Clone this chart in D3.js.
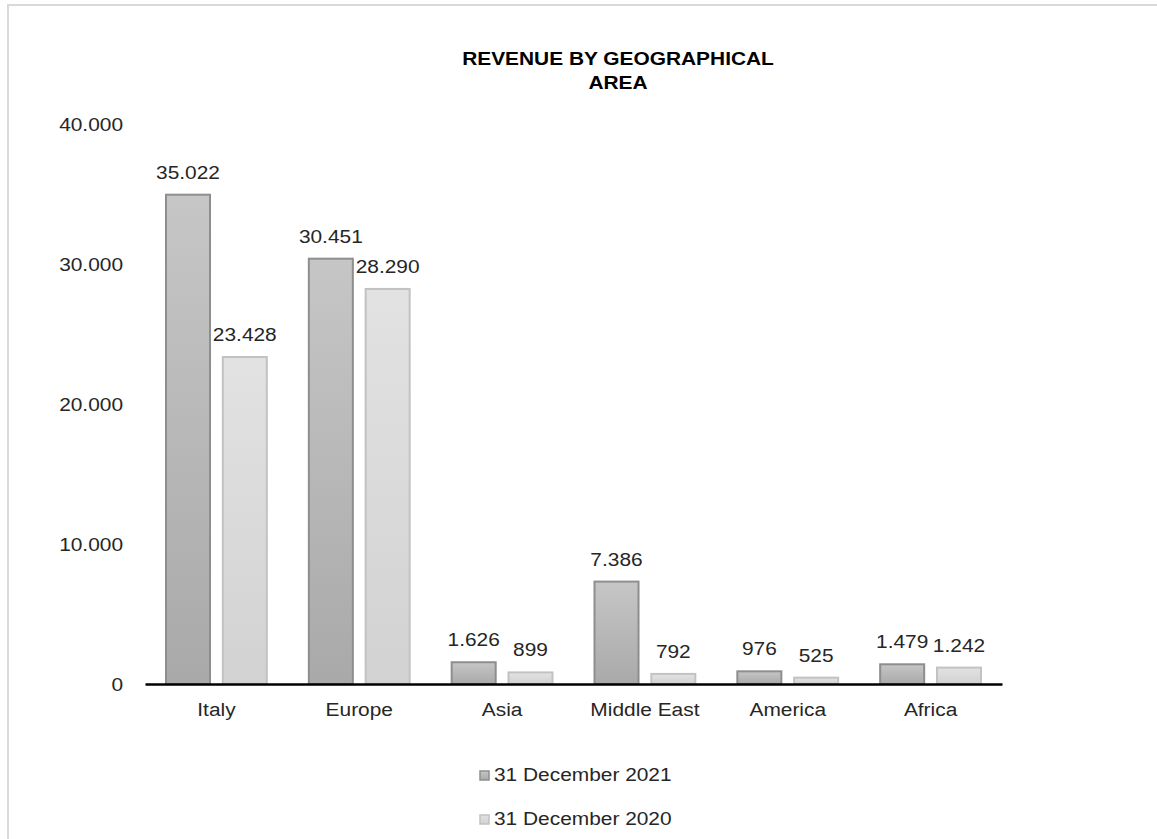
<!DOCTYPE html>
<html>
<head>
<meta charset="utf-8">
<script src="https://cdn.jsdelivr.net/npm/d3@7"></script>
<style>
  html, body { margin: 0; padding: 0; background: #fff; }
  svg { display: block; font-family: "Liberation Sans", Arial, sans-serif; }
</style>
</head>
<body>
<svg id="chart" width="1157" height="839"></svg>
<script>
// Revenue by geographical area, thousands of euro
const categories = ["Italy", "Europe", "Asia", "Middle East", "America", "Africa"];
const seriesNames = ["31 December 2021", "31 December 2020"];
const values2021 = [35022, 30451, 1626, 7386, 976, 1479];
const values2020 = [23428, 28290, 899, 792, 525, 1242];
const yTicks = [0, 10000, 20000, 30000, 40000];

const seriesValues = [values2021, values2020];
const fmt = v => d3.format(",")(v).replace(/,/g, ".");

const svg = d3.select("#chart");
const W = 1157, H = 839;
const plot = { left: 145, right: 1002, top: 124, bottom: 684 };
const FS = 18;        // base font size
const WIDEN = 1.16;   // horizontal widening of all labels

// outer frame
svg.append("rect")
  .attr("x", 8).attr("y", 5)
  .attr("width", W + 10).attr("height", H + 10)
  .attr("fill", "#fff").attr("stroke", "#d9d9d9").attr("stroke-width", 2);

// gradients for the two series
const defs = svg.append("defs");
const gradStops = [
  [["0%", "#c6c6c6"], ["100%", "#a9a9a9"]],
  [["0%", "#e2e2e2"], ["100%", "#d2d2d2"]]
];
gradStops.forEach((stops, i) => {
  const g = defs.append("linearGradient").attr("id", "grad" + i)
    .attr("x1", 0).attr("y1", 0).attr("x2", 0).attr("y2", 1);
  stops.forEach(s => g.append("stop").attr("offset", s[0]).attr("stop-color", s[1]));
});
const strokes = ["#8e8e8e", "#c2c2c2"];

const x0 = d3.scaleBand().domain(categories).range([plot.left, plot.right]).paddingInner(0).paddingOuter(0);
const x1 = d3.scaleBand().domain(d3.range(2)).range([20, x0.bandwidth() - 20]).paddingInner(0.19);
const y = d3.scaleLinear().domain([0, 40000]).range([plot.bottom, plot.top]);

// title
svg.append("text").attr("x", 618).attr("y", 65).attr("text-anchor", "middle")
  .attr("font-weight", "bold").attr("font-size", FS).attr("fill", "#000")
  .text("REVENUE BY GEOGRAPHICAL");
svg.append("text").attr("x", 618).attr("y", 89).attr("text-anchor", "middle")
  .attr("font-weight", "bold").attr("font-size", FS).attr("fill", "#000")
  .text("AREA");

// y axis labels (no axis line, no gridlines)
const yAxis = d3.axisLeft(y).tickValues(yTicks).tickFormat(fmt).tickSize(0).tickPadding(0);
const yg = svg.append("g").attr("transform", `translate(123,0)`).call(yAxis);
yg.select(".domain").remove();
yg.selectAll("text").attr("font-size", FS).attr("fill", "#262626").attr("dy", "0.36em")
  .attr("font-family", "Liberation Sans, Arial, sans-serif");

// bars
const groups = svg.append("g").selectAll("g").data(categories).join("g")
  .attr("transform", d => `translate(${x0(d)},0)`);

groups.each(function (cat, ci) {
  const g = d3.select(this);
  seriesValues.forEach((vals, si) => {
    const v = vals[ci];
    g.append("rect")
      .attr("x", x1(si) + 1).attr("width", x1.bandwidth() - 2)
      .attr("y", y(v) + 1).attr("height", Math.max(0, y(0) - y(v) - 1))
      .attr("fill", `url(#grad${si})`)
      .attr("stroke", strokes[si]).attr("stroke-width", 2);
    g.append("text")
      .attr("x", x1(si) + x1.bandwidth() / 2)
      .attr("y", y(v) - 15)
      .attr("text-anchor", "middle").attr("font-size", FS).attr("fill", "#262626")
      .text(fmt(v));
  });
});

// x axis
const xAxis = d3.axisBottom(x0).tickSize(0).tickPadding(0);
const xg = svg.append("g").attr("transform", `translate(0,${plot.bottom})`).call(xAxis);
xg.select(".domain").attr("stroke", "#000").attr("stroke-width", 2.5);
xg.selectAll("text").attr("font-size", FS).attr("fill", "#262626")
  .attr("dy", 0).attr("y", 32)
  .attr("font-family", "Liberation Sans, Arial, sans-serif");

// legend
const legend = svg.append("g");
seriesNames.forEach((name, i) => {
  const ly = 781 + i * 44;
  legend.append("rect").attr("x", 480).attr("y", ly - 10).attr("width", 9).attr("height", 9)
    .attr("fill", `url(#grad${i})`).attr("stroke", strokes[i]).attr("stroke-width", 1.5);
  legend.append("text").attr("x", 494).attr("y", ly).attr("font-size", FS).attr("fill", "#262626")
    .text(name);
});

// widen every label horizontally
svg.selectAll("text").each(function () {
  const w = this.getComputedTextLength();
  d3.select(this).attr("textLength", w * WIDEN).attr("lengthAdjust", "spacingAndGlyphs");
});
</script>
</body>
</html>
